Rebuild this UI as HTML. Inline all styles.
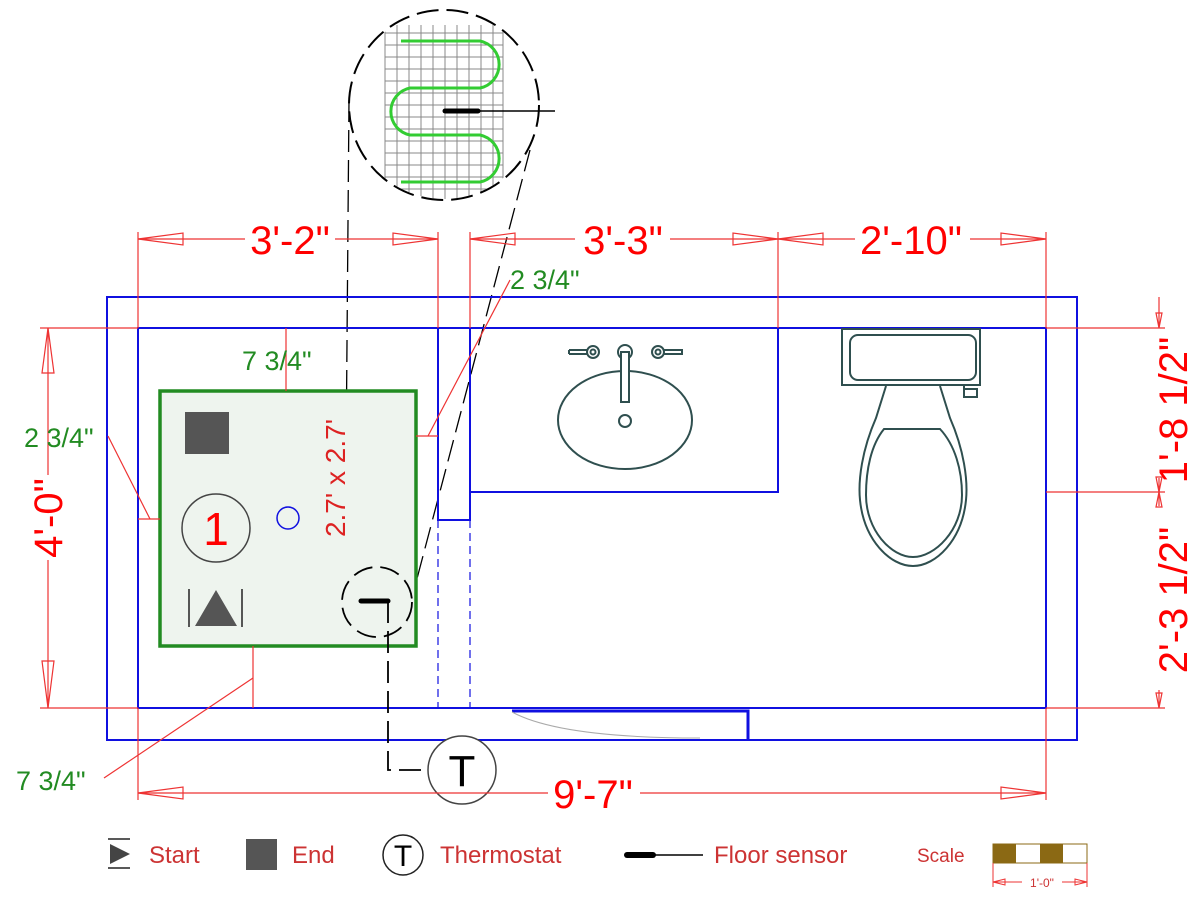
<!DOCTYPE html>
<html><head><meta charset="utf-8"><style>
html,body{margin:0;padding:0;background:#fff;}
svg{display:block;font-family:"Liberation Sans",sans-serif;}
</style></head><body>
<svg width="1200" height="900" viewBox="0 0 1200 900" xmlns="http://www.w3.org/2000/svg">
<defs>
<clipPath id="cc"><circle cx="444" cy="105" r="94"/></clipPath>
</defs>
<!-- zoom circle grid -->
<g clip-path="url(#cc)" stroke="#888" stroke-width="1">
<g id="gv">
<line x1="385" y1="25" x2="385" y2="200"/><line x1="397" y1="25" x2="397" y2="200"/><line x1="409" y1="25" x2="409" y2="200"/><line x1="421" y1="25" x2="421" y2="200"/><line x1="433" y1="25" x2="433" y2="200"/><line x1="445" y1="25" x2="445" y2="200"/><line x1="457" y1="25" x2="457" y2="200"/><line x1="469" y1="25" x2="469" y2="200"/><line x1="481" y1="25" x2="481" y2="200"/><line x1="493" y1="25" x2="493" y2="200"/><line x1="503" y1="25" x2="503" y2="200"/>
</g>
<line x1="385" y1="33" x2="503" y2="33"/><line x1="385" y1="45" x2="503" y2="45"/><line x1="385" y1="57" x2="503" y2="57"/><line x1="385" y1="69" x2="503" y2="69"/><line x1="385" y1="81" x2="503" y2="81"/><line x1="385" y1="93" x2="503" y2="93"/><line x1="385" y1="105" x2="503" y2="105"/><line x1="385" y1="117" x2="503" y2="117"/><line x1="385" y1="129" x2="503" y2="129"/><line x1="385" y1="141" x2="503" y2="141"/><line x1="385" y1="153" x2="503" y2="153"/><line x1="385" y1="165" x2="503" y2="165"/><line x1="385" y1="177" x2="503" y2="177"/><line x1="385" y1="189" x2="503" y2="189"/>
</g>
<path d="M401,41 H480 A24,24 0 0 1 480,88 H410 A24,24 0 0 0 410,135 H480 A24,24 0 0 1 480,182 H401" fill="none" stroke="#3c3" stroke-width="3"/>
<line x1="445" y1="111" x2="478" y2="111" stroke="#000" stroke-width="5" stroke-linecap="round"/>
<line x1="478" y1="111" x2="555" y2="111" stroke="#000" stroke-width="1.5"/>
<circle cx="444" cy="105" r="95" fill="none" stroke="#000" stroke-width="2" stroke-dasharray="22,8"/>
<!-- dashed leader lines -->
<line x1="349" y1="100" x2="345" y2="585" stroke="#000" stroke-width="1.3" stroke-dasharray="22,8"/>
<line x1="530" y1="150" x2="414" y2="590" stroke="#000" stroke-width="1.3" stroke-dasharray="22,8"/>

<!-- walls -->
<g fill="none" stroke="#1010e0" stroke-width="2">
<rect x="107" y="297" width="970" height="443"/>
<rect x="138" y="328" width="908" height="380"/>
<path d="M438,328 V520 H470 V328"/>
<path d="M470,492 H778 V328"/>
<path d="M512,711 H748 V740" stroke-width="3"/>
</g>
<g stroke="#1010e0" stroke-width="1.2" stroke-dasharray="8,5"><line x1="438" y1="520" x2="438" y2="708"/><line x1="470" y1="520" x2="470" y2="708"/></g>
<path d="M512,712 Q560,738 700,738" fill="none" stroke="#aaa" stroke-width="1"/>

<!-- mat -->
<rect x="160" y="391" width="256" height="255" fill="#eef4ee" stroke="#228b22" stroke-width="3.5"/>
<rect x="185" y="412" width="44" height="42" fill="#555"/>
<circle cx="216" cy="528" r="34" fill="none" stroke="#444" stroke-width="1.5"/>
<text x="216" y="545" font-size="46" fill="#f00" text-anchor="middle">1</text>
<circle cx="288" cy="518" r="11" fill="none" stroke="#1010e0" stroke-width="1.5"/>
<polygon points="195,626 237,626 216,590" fill="#555"/>
<line x1="189" y1="589" x2="189" y2="627" stroke="#222" stroke-width="1.5"/><line x1="242" y1="589" x2="242" y2="627" stroke="#222" stroke-width="1.5"/>
<text transform="translate(345,478) rotate(-90)" font-size="28" fill="#d22" text-anchor="middle">2.7' x 2.7'</text>
<!-- sensor small circle -->
<circle cx="377" cy="602" r="35" fill="none" stroke="#000" stroke-width="1.8" stroke-dasharray="20,8"/>
<line x1="361" y1="601" x2="388" y2="601" stroke="#000" stroke-width="5" stroke-linecap="round"/>
<path d="M388,601 V770 H428" fill="none" stroke="#000" stroke-width="1.8" stroke-dasharray="22,8"/>
<circle cx="462" cy="770" r="34" fill="#fff" stroke="#444" stroke-width="1.5"/>
<text x="462" y="786" font-size="44" text-anchor="middle" fill="#000">T</text>

<!-- sink -->
<g fill="none" stroke="#2f4f4f" stroke-width="2">
<ellipse cx="625" cy="420" rx="67" ry="49"/>
<circle cx="625" cy="421" r="6"/>
<circle cx="625" cy="352" r="7"/>
<rect x="621" y="352" width="8" height="50" fill="#fff"/>
<circle cx="593" cy="352" r="6"/><circle cx="593" cy="352" r="2.5"/>
<path d="M569,350 H587 M569,354 H587 M569,350 V354"/>
<circle cx="658" cy="352" r="6"/><circle cx="658" cy="352" r="2.5"/>
<path d="M664,350 H682 V354 H664"/>
</g>
<!-- toilet -->
<g fill="none" stroke="#2f4f4f" stroke-width="2">
<rect x="842" y="329" width="138" height="56"/>
<rect x="850" y="335" width="126" height="45" rx="8"/>
<path d="M964,385 V397 H977 V389 H964"/>
<path d="M886,386 L876,418 C862,450 858,480 860,500 C864,540 890,566 913,566 C936,566 962,540 966,500 C968,480 964,450 950,418 L940,386"/>
<path d="M884,429 H940 C955,445 962,470 962,495 C962,530 935,557 913,557 C891,557 866,530 866,495 C866,470 871,445 884,429 Z"/>
</g>

<!-- red dimensions -->
<g stroke="#e33" stroke-width="1.2" fill="none">
<line x1="138" y1="232" x2="138" y2="328"/><line x1="438" y1="232" x2="438" y2="328"/>
<line x1="470" y1="232" x2="470" y2="328"/><line x1="778" y1="232" x2="778" y2="328"/><line x1="1046" y1="232" x2="1046" y2="328"/>
<line x1="138" y1="239" x2="245" y2="239"/><line x1="335" y1="239" x2="438" y2="239"/>
<line x1="470" y1="239" x2="575" y2="239"/><line x1="670" y1="239" x2="855" y2="239"/><line x1="970" y1="239" x2="1046" y2="239"/>
<polygon points="138,239 183,233 183,245"/><polygon points="438,239 393,233 393,245"/>
<polygon points="470,239 515,233 515,245"/><polygon points="778,239 733,233 733,245"/>
<polygon points="778,239 823,233 823,245"/><polygon points="1046,239 1001,233 1001,245"/>
<!-- left -->
<line x1="40" y1="328" x2="138" y2="328"/><line x1="40" y1="708" x2="138" y2="708"/>
<line x1="48" y1="328" x2="48" y2="475"/><line x1="48" y1="560" x2="48" y2="708"/>
<polygon points="48,328 42,373 54,373"/><polygon points="48,708 42,661 54,661"/>
<!-- bottom -->
<line x1="138" y1="708" x2="138" y2="800"/><line x1="1046" y1="708" x2="1046" y2="800"/>
<line x1="138" y1="793" x2="548" y2="793"/><line x1="640" y1="793" x2="1046" y2="793"/>
<polygon points="138,793 183,787 183,799"/><polygon points="1046,793 1001,787 1001,799"/>
<!-- right -->
<line x1="1046" y1="328" x2="1165" y2="328"/><line x1="1046" y1="492" x2="1165" y2="492"/><line x1="1046" y1="708" x2="1165" y2="708"/>
<line x1="1159" y1="297" x2="1159" y2="328"/><line x1="1159" y1="478" x2="1159" y2="506"/><line x1="1159" y1="690" x2="1159" y2="708"/>
<polygon points="1159,328 1156,313 1162,313"/><polygon points="1159,492 1156,477 1162,477"/>
<polygon points="1159,492 1156,507 1162,507"/><polygon points="1159,708 1156,693 1162,693"/>
<!-- leaders -->
<line x1="286" y1="328" x2="286" y2="391"/>
<line x1="138" y1="519" x2="160" y2="519"/><line x1="108" y1="436" x2="150" y2="519"/>
<line x1="416" y1="436" x2="438" y2="436"/><line x1="428" y1="436" x2="510" y2="280"/>
<line x1="253" y1="646" x2="253" y2="708"/><line x1="253" y1="678" x2="104" y2="778"/>
</g>
<g fill="#f00" font-size="40" text-anchor="middle">
<text x="290" y="254">3'-2"</text>
<text x="623" y="254">3'-3"</text>
<text x="911" y="254">2'-10"</text>
<text x="593" y="808">9'-7"</text>
<text transform="translate(62,518) rotate(-90)">4'-0"</text>
<text transform="translate(1187,410) rotate(-90)">1'-8 1/2"</text>
<text transform="translate(1187,600) rotate(-90)">2'-3 1/2"</text>
</g>
<g fill="#228b22" font-size="27">
<text x="242" y="370">7 3/4"</text>
<text x="24" y="447">2 3/4"</text>
<text x="510" y="289">2 3/4"</text>
<text x="16" y="790">7 3/4"</text>
</g>

<!-- legend -->
<line x1="108" y1="839" x2="130" y2="839" stroke="#222" stroke-width="1.5"/>
<line x1="108" y1="868" x2="130" y2="868" stroke="#222" stroke-width="1.5"/>
<polygon points="110,844 110,864 130,854" fill="#444"/>
<text x="149" y="863" font-size="24" fill="#c33">Start</text>
<rect x="246" y="839" width="31" height="31" fill="#555"/>
<text x="292" y="863" font-size="24" fill="#c33">End</text>
<circle cx="403" cy="855" r="20" fill="none" stroke="#222" stroke-width="1.5"/>
<text x="403" y="866" font-size="30" text-anchor="middle">T</text>
<text x="440" y="863" font-size="24" fill="#c33">Thermostat</text>
<line x1="627" y1="855" x2="653" y2="855" stroke="#000" stroke-width="6" stroke-linecap="round"/>
<line x1="653" y1="855" x2="703" y2="855" stroke="#000" stroke-width="1.5"/>
<text x="714" y="863" font-size="24" fill="#c33">Floor sensor</text>
<text x="917" y="862" font-size="19" fill="#c33">Scale</text>
<rect x="993" y="844" width="94" height="19" fill="#fff" stroke="#8b6914" stroke-width="1"/>
<rect x="993" y="844" width="23" height="19" fill="#8b6914"/>
<rect x="1040" y="844" width="23" height="19" fill="#8b6914"/>
<g stroke="#e33" stroke-width="1" fill="none">
<line x1="993" y1="863" x2="993" y2="887"/><line x1="1087" y1="863" x2="1087" y2="887"/>
<line x1="993" y1="882" x2="1022" y2="882"/><line x1="1062" y1="882" x2="1087" y2="882"/>
<polygon points="993,882 1005,879 1005,885"/><polygon points="1087,882 1075,879 1075,885"/>
</g>
<text x="1042" y="887" font-size="12" fill="#c33" text-anchor="middle">1'-0"</text>
</svg>
</body></html>
